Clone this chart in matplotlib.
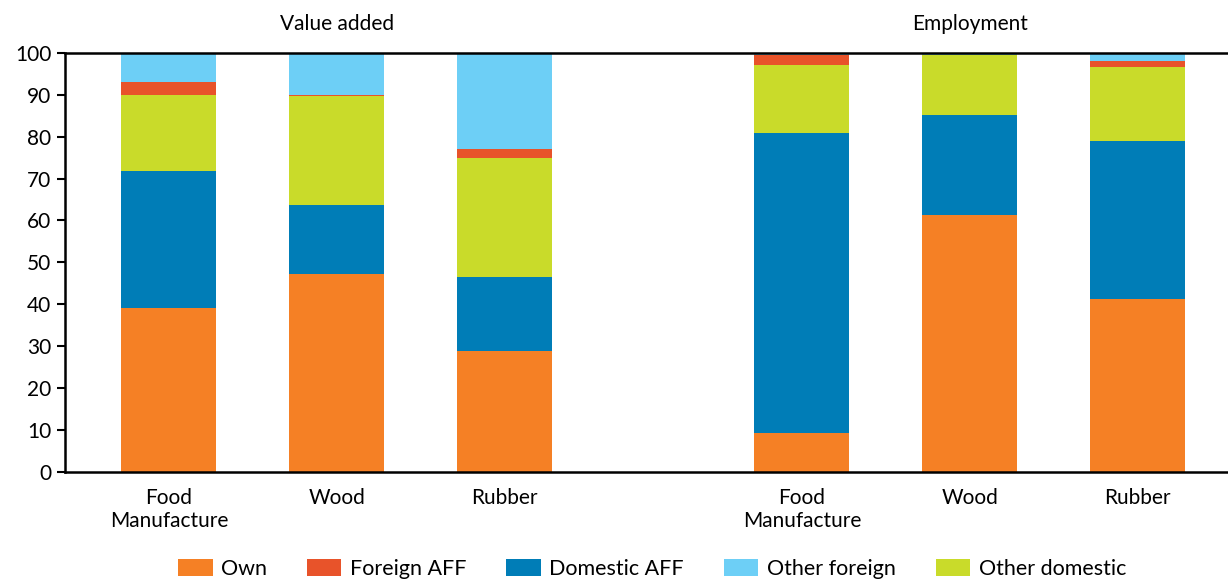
import matplotlib
matplotlib.use("Agg")
import matplotlib.pyplot as plt
import numpy as np

plt.rcParams['font.family'] = ['Lato', 'DejaVu Sans']

#%% data (shares, %)

categories = ["Food\nManufacture", "Wood", "Rubber", "Food\nManufacture", "Wood", "Rubber"]
panels = ["Value added", "Employment"]

series_names = ["Own", "Domestic AFF", "Other domestic", "Foreign AFF", "Other foreign"]
own            = [39.1, 47.2, 28.8,  9.2, 61.3, 41.2]
domestic_aff   = [32.7, 16.5, 17.7, 71.6, 23.8, 37.7]
other_domestic = [18.1, 26.0, 28.3, 16.3, 14.3, 17.7]
foreign_aff    = [ 3.1,  0.3,  2.2,  2.3,  0.0,  1.4]
other_foreign  = [ 7.0, 10.0, 23.0,  0.6,  0.6,  2.0]

colors = {"Own": "#F58025", "Foreign AFF": "#E8532A", "Domestic AFF": "#007DB7",
          "Other foreign": "#6DCFF6", "Other domestic": "#C9DB2A"}
legend_order = ["Own", "Foreign AFF", "Domestic AFF", "Other foreign", "Other domestic"]

#%% plot

xpos = np.array([0, 1, 2, 3.77, 4.77, 5.77])
width = 0.567

fig = plt.figure(figsize=(12.28, 5.82), dpi=100)
ax = fig.add_axes([0.053, 0.1895, 0.95, 0.7195])

bottom = np.zeros(len(xpos))
handles = {}
for name, vals in zip(series_names, [own, domestic_aff, other_domestic, foreign_aff, other_foreign]):
    vals = np.array(vals)
    b = ax.bar(xpos, vals, width, bottom=bottom, color=colors[name], label=name, linewidth=0)
    handles[name] = b
    bottom += vals

ax.set_ylim(0, 100)
ax.set_xlim(-0.618, 6.33)
ax.set_yticks(np.arange(0, 101, 10))
ax.tick_params(axis='y', labelsize=15, length=6, width=1.5, direction='out', pad=4)
ax.set_xticks(xpos)
ax.set_xticklabels(categories, fontsize=15, linespacing=1.15)
ax.tick_params(axis='x', length=0, pad=12)

for side in ['left', 'bottom', 'top']:
    ax.spines[side].set_linewidth(1.8)
ax.spines['right'].set_visible(False)

# panel titles
ax.text(xpos[:3].mean(), 104.5, panels[0], ha='center', va='bottom', fontsize=15)
ax.text(xpos[3:].mean(), 104.5, panels[1], ha='center', va='bottom', fontsize=15)

fig.legend([handles[n] for n in legend_order], legend_order, loc='center',
           bbox_to_anchor=(0.531, 0.022), ncol=5, frameon=False, fontsize=15.5,
           handlelength=1.6, handleheight=0.8, handletextpad=0.4, columnspacing=1.85)

plt.savefig("out.png", dpi=100)
